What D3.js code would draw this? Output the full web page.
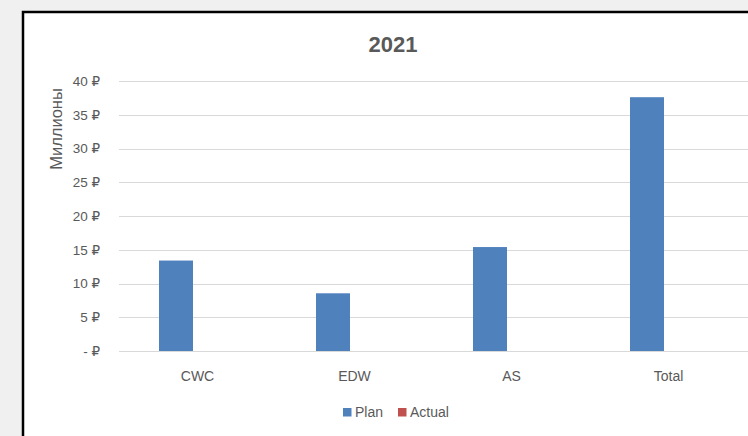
<!DOCTYPE html>
<html><head><meta charset="utf-8">
<script src="https://cdn.jsdelivr.net/npm/d3@7"></script>
<style>
html,body{margin:0;padding:0;background:#f0f0f0;}
svg{display:block;}
text{font-family:"Liberation Sans","DejaVu Sans",sans-serif;fill:#595959;}
</style></head>
<body>
<svg id="chart" width="748" height="436"></svg>
<script>
const title = "2021";
const yTitle = "Миллионы";
const categories = ["CWC", "EDW", "AS", "Total"];
const seriesNames = ["Plan", "Actual"];
const planValues = [13.4, 8.55, 15.4, 37.6];
const actualValues = [0, 0, 0, 0];
const yTicks = [0, 5, 10, 15, 20, 25, 30, 35, 40];
const colors = ["#4f81bd", "#c0504d"];

const svg = d3.select("#chart");
// chart area with border
svg.append("rect").attr("x", 23).attr("y", 12).attr("width", 740).attr("height", 440)
  .attr("fill", "#ffffff").attr("stroke", "#000").attr("stroke-width", 2.5);

const x = d3.scaleBand().domain(categories).range([119, 747]);
const xSub = d3.scaleBand().domain(seriesNames).range([40, 108]);
const y = d3.scaleLinear().domain([0, 40]).range([351, 81]);

// gridlines
svg.append("g").selectAll("line").data(yTicks).join("line")
  .attr("x1", 119).attr("x2", 748)
  .attr("y1", d => Math.round(y(d)) + 0.5).attr("y2", d => Math.round(y(d)) + 0.5)
  .attr("stroke", "#d9d9d9").attr("stroke-width", 1);

// y axis labels
const yAxis = d3.axisLeft(y).tickValues(yTicks).tickSize(0).tickPadding(0)
  .tickFormat(d => d === 0 ? "- \u20BD" : d + " \u20BD");
const ya = svg.append("g").attr("transform", "translate(100,0)").call(yAxis);
ya.select(".domain").remove();
ya.selectAll("text").attr("font-size", 13.5).attr("fill", "#595959")
  .style("font-family", '"Liberation Sans","DejaVu Sans",sans-serif');

// x axis labels
const xAxis = d3.axisBottom(x).tickSize(0).tickPadding(0);
const xa = svg.append("g").attr("transform", "translate(0,381)").call(xAxis);
xa.select(".domain").remove();
xa.selectAll("text").attr("font-size", 14).attr("fill", "#595959").attr("dy", 0)
  .style("font-family", '"Liberation Sans","DejaVu Sans",sans-serif');

// bars
const rows = categories.map((c, i) => ({cat: c, vals: [planValues[i], actualValues[i]]}));
const g = svg.append("g").selectAll("g").data(rows).join("g")
  .attr("transform", d => `translate(${x(d.cat)},0)`);
g.selectAll("rect").data(d => d.vals.map((v, j) => ({s: seriesNames[j], v, j})))
  .join("rect")
  .attr("x", d => xSub(d.s)).attr("width", xSub.bandwidth())
  .attr("y", d => y(d.v)).attr("height", d => y(0) - y(d.v))
  .attr("fill", d => colors[d.j]);

// title
svg.append("text").attr("x", 393).attr("y", 52).attr("text-anchor", "middle")
  .attr("font-size", 22).attr("font-weight", "bold").text(title);

// y title
svg.append("text").attr("transform", "translate(62,129) rotate(-90)")
  .attr("text-anchor", "middle").attr("font-size", 16.5).text(yTitle);

// legend
const legendX = [343, 398];
const lg = svg.append("g").selectAll("g").data(seriesNames).join("g")
  .attr("transform", (d, i) => `translate(${legendX[i]},408)`);
lg.append("rect").attr("width", 8.5).attr("height", 8.5).attr("fill", (d, i) => colors[i]);
lg.append("text").attr("x", 12).attr("y", 9).attr("font-size", 14).text(d => d);
</script>
</body></html>
